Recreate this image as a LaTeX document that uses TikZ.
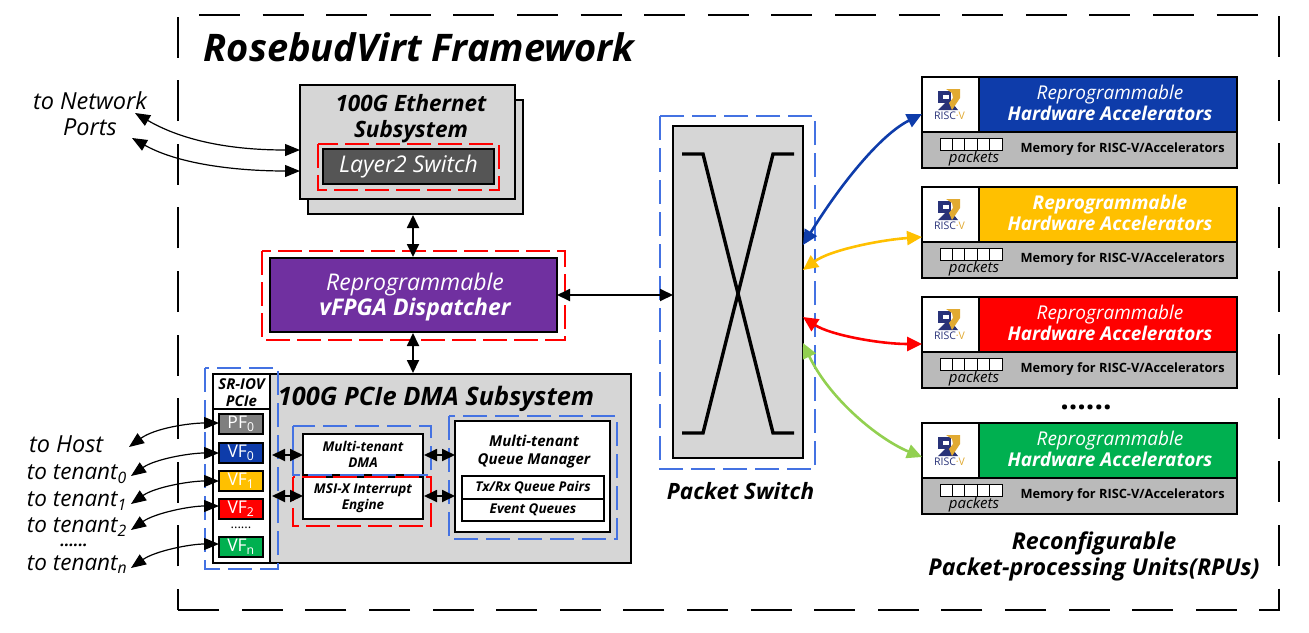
\documentclass[tikz,border=0pt]{standalone}
\usepackage{fontspec}
\setmainfont{Open Sans}
\usetikzlibrary{arrows.meta}
\definecolor{boxgray}{RGB}{214,214,214}
\definecolor{memgray}{RGB}{186,186,186}
\definecolor{dgray}{RGB}{85,85,85}
\definecolor{pfgray}{RGB}{127,127,127}
\definecolor{hwblue}{RGB}{14,60,170}
\definecolor{hwyellow}{RGB}{255,192,0}
\definecolor{hwred}{RGB}{255,0,0}
\definecolor{hwgreen}{RGB}{0,176,80}
\definecolor{lgreen}{RGB}{146,208,80}
\definecolor{vpurple}{RGB}{112,48,160}
\definecolor{dashblue}{RGB}{68,114,226}
\definecolor{rvblue}{RGB}{40,50,120}
\definecolor{rvgold}{RGB}{225,170,50}
\tikzset{
 every node/.style={outer sep=0pt},
 pbox/.style={draw=black,line width=1.8pt,rectangle,minimum width=#1,inner sep=0pt,align=center},
 redd/.style={draw=red,line width=1.6pt,dash pattern=on 24pt off 7pt},
 blued/.style={draw=dashblue,line width=1.6pt,dash pattern=on 24pt off 8pt},
 framed/.style={line width=2.5pt,dash pattern=on 41pt off 22.6pt},
 dbl/.style={{Triangle[length=13pt,width=12pt]}-{Triangle[length=13pt,width=12pt]},line width=1.8pt},
 thin2/.style={{Triangle[length=15pt,width=12pt]}-{Triangle[length=15pt,width=12pt]},line width=1.2pt},
 col/.style={{Triangle[length=15pt,width=14pt]}-{Triangle[length=15pt,width=14pt]},line width=2.6pt},
 lab/.style={font=\fontsize{23.5}{26}\selectfont\itshape,inner sep=0pt,align=center},
 tenant/.style={font=\fontsize{22.5}{24}\selectfont\itshape,inner sep=0pt,anchor=west},
 tit/.style={font=\fontsize{22.5}{26}\selectfont\bfseries\itshape,inner sep=0pt,align=center},
 vf/.style={draw=black,line width=1.8pt,minimum width=44pt,minimum height=20pt,inner sep=0pt,font=\fontsize{17.5}{17.5}\selectfont,text=white},
 sm/.style={font=\fontsize{13.5}{16}\selectfont\bfseries\itshape,inner sep=0pt,align=center},
}
\newcommand{\rpu}[4]{% y top, colour, name, first line
 \node[draw=black,line width=2pt,fill=memgray,minimum width=315pt,minimum height=91pt,anchor=north west,inner sep=0pt] (#3) at (922,#1) {};
 \node[draw=black,line width=1.8pt,fill=#2,minimum width=258pt,minimum height=55pt,anchor=north west,inner sep=0pt,text=white] (#3h) at (979,#1) {};
 \node[text=white,font=\fontsize{19}{21}\selectfont\itshape,align=center,inner sep=0pt] (#3t) at (1110,#1+26) {#4\\\bfseries Hardware Accelerators};
 \node[draw=black,line width=1.8pt,fill=white,minimum width=57pt,minimum height=55pt,anchor=north west,inner sep=0pt] (#3l) at (922,#1) {};
 \fill[rvblue] (938,#1+14) rectangle (951,#1+26);
 \fill[rvblue] (938,#1+33) -- (949,#1+22) -- (958,#1+33) -- cycle;
 \fill[white] (943,#1+18) rectangle (949,#1+22);
 \fill[rvgold] (946,#1+12) -- (960,#1+12) -- (960,#1+21) -- (952,#1+33) -- (949,#1+26) -- (953,#1+21) -- (952,#1+16) -- cycle;
 \node[inner sep=0pt,font=\fontsize{10.5}{11}\selectfont,text=rvblue] (#3r) at (949.5,#1+39) {RISC\textcolor{rvgold}{·V}};
 \foreach \k in {0,1,2,3,4} {\draw[line width=1pt,fill=white] (940+12.4*\k,#1+61) rectangle +(12.4,12);}
 \node[inner sep=0pt,font=\fontsize{15}{16}\selectfont\itshape] (#3p) at (974,#1+82) {packets};
 \node[inner sep=0pt,font=\fontsize{12.8}{14}\selectfont\bfseries,anchor=west] (#3m) at (1020.5,#1+72.5) {Memory for RISC-V/Accelerators};
}
\begin{document}
\begin{tikzpicture}[x=1pt,y=-1pt]
\useasboundingbox (0,0) rectangle (1309,632);
% frame
\coordinate (fa) at (199,15);
\coordinate (fb) at (1279,15);
\coordinate (fc) at (1279,610);
\coordinate (fd) at (178,610);
\coordinate (fe) at (178,17);
\draw[framed] (fa) -- (fb) -- (fc) -- (fd);
\draw[framed,dash phase=20pt] (fd) -- (fe);
\node[inner sep=0pt,font=\fontsize{38}{42}\selectfont\bfseries\itshape] (title) at (419,47) {RosebudVirt Framework};
% Ethernet
\node[pbox=215pt,fill=boxgray,minimum height=114pt,anchor=north west] (ethb) at (308,100) {};
\node[pbox=215pt,fill=boxgray,minimum height=114pt,anchor=north west] (eth) at (300,85) {};
\node[tit] (etht) at (411,118.5) {100G Ethernet\\Subsystem};
\draw[redd] (318,144) rectangle (499,190);
\node[pbox=171pt,fill=dgray,minimum height=35pt,anchor=north west,text=white,font=\fontsize{23}{24}\selectfont\itshape] (l2) at (323,149) {Layer2 Switch};
\node[lab] (net) at (90,114) {to Network\\Ports};
\coordinate (n1) at (135,113);
\coordinate (n2) at (132,138);
\coordinate (e1) at (300,150);
\coordinate (e2) at (300,171);
\draw[thin2] (n1) .. controls (190,145) and (245,150) .. (e1);
\draw[thin2] (n2) .. controls (180,165) and (240,171) .. (e2);
% dispatcher
\draw[redd] (262,251) rectangle (565,340);
\node[draw=black,line width=1.8pt,fill=vpurple,minimum width=287pt,minimum height=74pt,anchor=north west,inner sep=0pt] (disp) at (270,258) {};
\node[text=white,align=center,inner sep=0pt,font=\fontsize{23}{25.5}\selectfont\itshape] (dispt) at (415,297) {Reprogrammable\\\bfseries vFPGA Dispatcher};
\draw[dbl] (413,215) -- (413,257);
% PCIe
\node[pbox=418pt,fill=boxgray,minimum height=189pt,anchor=north west] (pcie) at (213,374) {};
\draw[dbl] (413,333) -- (413,373);
\node[tit,font=\fontsize{25.4}{28}\selectfont\bfseries\itshape] (pciet) at (436,399) {100G PCIe DMA Subsystem};
\node[pbox=57pt,fill=white,minimum height=189pt,anchor=north west] (sr) at (213,374) {};
\draw[line width=1.8pt] (213,409) -- (270,409);
\node[sm,font=\fontsize{15}{17}\selectfont\bfseries\itshape] (srt) at (241.5,392.5) {SR-IOV\\PCIe};
\draw[blued] (205,368) rectangle (278,569);
\node[vf,fill=pfgray] (pf) at (241,424) {PF\textsubscript{0}};
\node[vf,fill=hwblue] (v0) at (241,453) {VF\textsubscript{0}};
\node[vf,fill=hwyellow] (v1) at (241,481) {VF\textsubscript{1}};
\node[vf,fill=hwred] (v2) at (241,509) {VF\textsubscript{2}};
\node[inner sep=0pt,font=\fontsize{13}{13}\selectfont,text height=3pt,text depth=0pt] (dv) at (241,527) {......};
\node[vf,fill=hwgreen] (vn) at (241,547) {VF\textsubscript{n}};
\node[tenant,font=\fontsize{23.5}{24}\selectfont\itshape] (th) at (29,444) {to Host};
\node[tenant] (t0) at (27,474) {to tenant\textsubscript{0}};
\node[tenant] (t1) at (27,501.5) {to tenant\textsubscript{1}};
\node[tenant] (t2) at (27,527) {to tenant\textsubscript{2}};
\node[inner sep=0pt,font=\fontsize{16}{16}\selectfont\bfseries\itshape,text height=3pt,text depth=0pt] (dt) at (74,545) {......};
\node[tenant] (tn) at (27,564.5) {to tenant\textsubscript{n}};
\coordinate (a0) at (129,447);
\coordinate (a1) at (131,476);
\coordinate (a2) at (131,504);
\coordinate (a3) at (131,530);
\coordinate (a4) at (131,568);
\draw[thin2] (a0) .. controls (155,428) and (190,423) .. ([yshift=1pt]pf.west);
\draw[thin2] (a1) .. controls (155,459) and (190,453) .. (v0.west);
\draw[thin2] (a2) .. controls (155,487) and (190,481) .. (v1.west);
\draw[thin2] (a3) .. controls (155,513) and (190,506) .. ([yshift=3pt]v2.west);
\draw[thin2] (a4) .. controls (155,551) and (190,544) .. ([yshift=3pt]vn.west);
% DMA
\node[pbox=120pt,fill=white,minimum height=41pt,anchor=north west,sm] (dma) at (303,434) {Multi-tenant\\DMA};
\node[pbox=120pt,fill=white,minimum height=42pt,anchor=north west,sm] (msi) at (303,477) {MSI-X Interrupt\\Engine};
\draw[blued] (293,426) rectangle (431,475);
\draw[redd] (293,477) rectangle (431,526);
\coordinate (la) at (272,455);
\coordinate (lb) at (272,496);
\draw[dbl] (la) -- (la -| dma.west);
\draw[dbl] (lb) -- (lb -| msi.west);
% Queue manager
\draw[blued] (449,416) rectangle (617,539);
\node[pbox=155pt,fill=white,minimum height=111pt,anchor=north west] (qm) at (455,421) {};
\node[sm,font=\fontsize{15}{18}\selectfont\bfseries\itshape] (qmt) at (534,452) {Multi-tenant\\Queue Manager};
\node[pbox=142pt,fill=white,minimum height=23pt,anchor=north west,sm] (tx) at (462,476) {Tx/Rx Queue Pairs};
\node[pbox=142pt,fill=white,minimum height=22pt,anchor=north west,sm] (evq) at (462,499) {Event Queues};
\coordinate (ra) at (424,455);
\coordinate (rb) at (424,496);
\draw[dbl] (ra) -- (ra -| qm.west);
\draw[dbl] (rb) -- (rb -| qm.west);
% packet switch
\draw[blued] (660,116) rectangle (815,469);
\node[pbox=130pt,fill=boxgray,minimum height=332pt,anchor=north west] (ps) at (673,126) {};
\draw[line width=3.4pt] (682,154) -- (703,154) -- (773,433) -- (794,433);
\draw[line width=3.4pt] (682,433) -- (703,433) -- (773,154) -- (794,154);
\node[tit,font=\fontsize{22.5}{26}\selectfont\bfseries\itshape] (pst) at (740.5,491) {Packet Switch};
\draw[dbl] (disp.east) -- (disp.east -| ps.west);
% RPUs
\rpu{77}{hwblue}{r1}{Reprogrammable}
\rpu{187}{hwyellow}{r2}{\bfseries Reprogrammable}
\rpu{297}{hwred}{r3}{Reprogrammable}
\rpu{423}{hwgreen}{r4}{Reprogrammable}
\node[inner sep=0pt,font=\fontsize{30}{30}\selectfont\bfseries,text height=4pt,text depth=0pt] (dots) at (1086,407) {......};
\node[tit,font=\fontsize{23.2}{26}\selectfont\bfseries\itshape] (rpt) at (1094,556) {Reconfigurable\\Packet-processing Units(RPUs)};
\coordinate (p1) at (803,245);
\coordinate (p2) at (803,270);
\coordinate (p3) at (803,317);
\coordinate (p4) at (803,343);
\draw[col,draw=hwblue] (p1) .. controls (840,185) and (880,135) .. (r1.west |- 0,114);
\draw[col,draw=hwyellow] (p2) .. controls (830,250) and (880,240) .. (r2.west |- 0,237);
\draw[col,draw=hwred] (p3) .. controls (830,335) and (880,344) .. (r3.west |- 0,344);
\draw[col,draw=lgreen] (p4) .. controls (830,400) and (880,440) .. (r4.west |- 0,457);
\end{tikzpicture}
\end{document}
